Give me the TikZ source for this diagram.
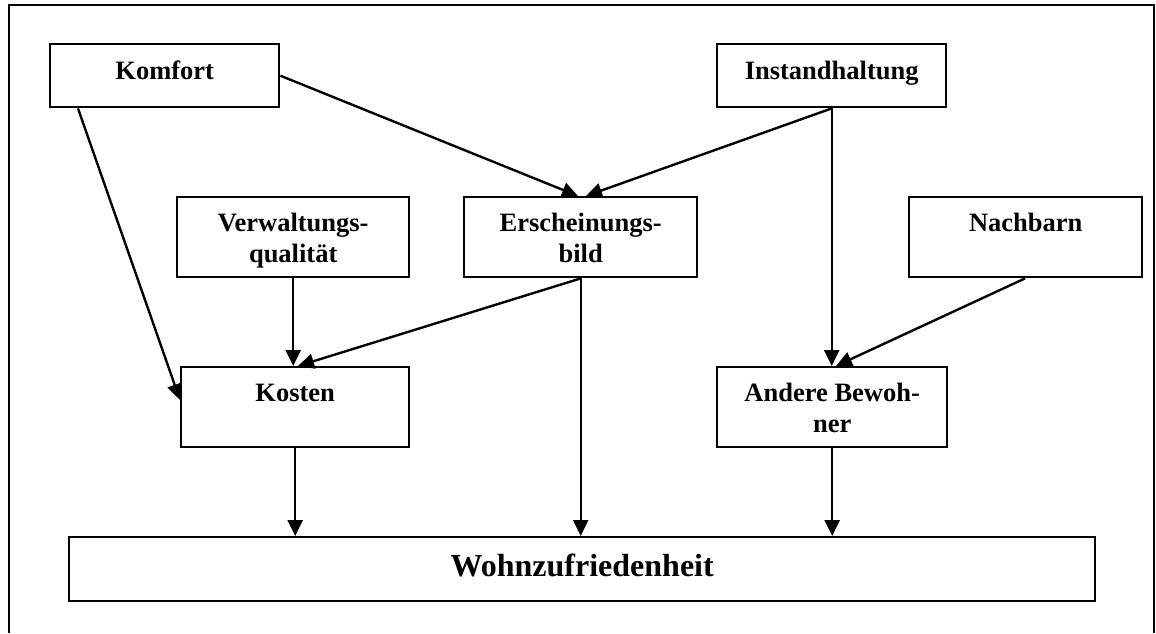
\documentclass[tikz,border=0pt]{standalone}
\usepackage{fontspec}
\setmainfont{Liberation Serif}
\usetikzlibrary{arrows.meta}
\newcommand{\twolines}[2]{\begin{tabular}[t]{@{}c@{}}#1\\#2\end{tabular}}
\begin{document}
\begin{tikzpicture}[x=1pt,y=-1pt,
  box/.style={draw, line width=2.4pt, anchor=north west, inner xsep=0pt, inner ysep=0pt,
    font=\fontsize{26.5}{31}\selectfont\bfseries},
  onebox/.style={box, text height=35pt, text depth=28pt},
  tallbox/.style={box, text height=34pt, text depth=46pt},
  arr/.style={line width=2.4pt, -{Triangle[length=16pt,width=15pt]}}]
\useasboundingbox (0,0) rectangle (1156,633);

% outer frame, open at the bottom
\draw[line width=2.4pt] (9,633) -- (9,5) -- (1154,5) -- (1154,633);

% factors
\node[onebox, minimum width=229pt] (kom) at (49,43) {Komfort};
\node[onebox, minimum width=229pt] (inst) at (716,43) {Instandhaltung};
\node[tallbox, minimum width=232pt] (verw) at (176,196) {\twolines{Verwaltungs-}{qualität}};
\node[tallbox, minimum width=233pt] (ersch) at (463,196) {\twolines{Erscheinungs-}{bild}};
\node[tallbox, minimum width=233pt] (nach) at (908,196) {Nachbarn};
\node[tallbox, minimum width=228pt] (kost) at (180,366) {Kosten};
\node[tallbox, minimum width=230pt] (andere) at (716,366) {\twolines{Andere Bewoh-}{ner}};
\node[box, minimum width=1026pt, text height=39pt, text depth=25pt,
      font=\fontsize{32}{38}\selectfont\bfseries] (wohn) at (68,536) {Wohnzufriedenheit};

% influences
\draw[arr] ([shift={(29,0)}]kom.south west) -- ([shift={(0,34)}]kost.north west);
\draw[arr] (kom.east) -- ([shift={(115,0)}]ersch.north west);
\draw[arr] (inst.south) -- ([shift={(123,0)}]ersch.north west);
\draw[arr] (inst.south) -- (inst.south |- andere.north);
\draw[arr] (verw.south) -- (verw.south |- kost.north);
\draw[arr] (ersch.south) -- ([shift={(118,0)}]kost.north west);
\draw[arr] (ersch.south) -- (ersch.south |- wohn.north);
\draw[arr] ([shift={(117,0)}]nach.south west) -- ([shift={(120,0)}]andere.north west);
\draw[arr] (kost.south) -- (kost.south |- wohn.north);
\draw[arr] (andere.south) -- (andere.south |- wohn.north);
\end{tikzpicture}
\end{document}
